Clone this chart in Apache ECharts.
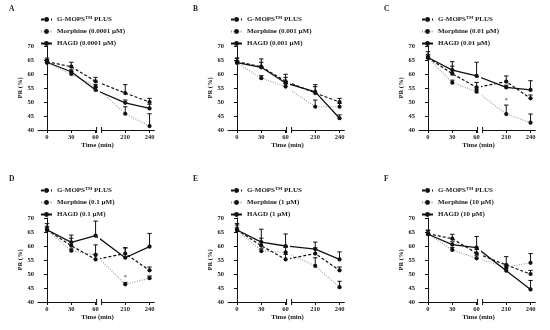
<!DOCTYPE html>
<html><head><meta charset="utf-8">
<script src="https://cdn.jsdelivr.net/npm/echarts@6/dist/echarts.min.js"></script>
<style>html,body{margin:0;padding:0;background:#fff}#c{width:550px;height:330px}</style>
</head><body><div id="c"></div>
<script>
// ---------- data ----------
const timeLabels = ['0', '30', '60', '210', '240'];
const panelLetters = ['A', 'B', 'C', 'D', 'E', 'F'];
const doseLabels = ['0.0001 µM', '0.001 µM', '0.01 µM', '0.1 µM', '1 µM', '10 µM'];
const yTicks = [40, 45, 50, 55, 60, 65, 70];

// control (G-MOPS PLUS) – panels A, B, F share one control, C, D, E another
const gmopsABF    = [64.4, 62.6, 57.4, 53.2, 50.0];
const gmopsABFErr = [65.7, 64.2, 58.8, 56.2, 51.3];
const gmopsCDE    = [65.8, 60.1, 55.2, 57.3, 51.3];
const gmopsCDEErr = [68.0, 62.8, 57.0, 59.3, 52.5];

const morphineA    = [64.0, 60.0, 55.5, 45.8, 41.4];
const morphineAErr = [64.8, 60.8, 56.3, 48.3, 45.8];
const hagdA        = [64.2, 60.8, 54.3, 49.7, 47.7];
const hagdAErr     = [65.2, 61.5, 55.2, 50.7, 49.2];

const morphineB    = [64.0, 58.5, 55.5, 48.3, 48.3];
const morphineBErr = [64.8, 59.4, 56.5, 50.7, 49.5];
const hagdB        = [64.1, 62.4, 56.8, 53.6, 44.2];
const hagdBErr     = [65.6, 65.4, 59.9, 55.5, 45.4];

const morphineC    = [65.8, 56.9, 53.7, 45.7, 42.6];
const morphineCErr = [66.5, 57.8, 54.5, 48.9, 45.7];
const hagdC        = [65.9, 61.4, 59.3, 55.2, 54.3];
const hagdCErr     = [67.0, 64.4, 64.2, 56.0, 57.6];

const morphineD    = [65.7, 58.3, 56.8, 46.3, 48.5];
const morphineDErr = [66.5, 59.0, 60.4, 47.0, 49.3];
const hagdD        = [65.8, 61.3, 63.7, 55.8, 59.8];
const hagdDErr     = [67.0, 63.9, 68.9, 59.4, 64.5];

const morphineE    = [65.7, 58.2, 57.7, 52.9, 45.3];
const morphineEErr = [66.5, 59.0, 59.5, 55.8, 47.4];
const hagdE        = [65.7, 61.4, 60.0, 58.9, 55.2];
const hagdEErr     = [67.5, 66.0, 64.3, 61.4, 57.9];

const morphineF    = [64.3, 58.6, 55.6, 52.5, 54.0];
const morphineFErr = [65.0, 59.5, 56.5, 53.5, 57.3];
const hagdF        = [64.2, 60.5, 59.4, 51.2, 44.5];
const hagdFErr     = [65.5, 61.5, 63.4, 52.0, 47.7];

// significance marks (value where the * is shown, per time point)
const asteriskC = [null, null, null, 50.6, null];
const asteriskD = [null, null, null, 49.0, null];

// ---------- layout ----------
const FONT = 'Liberation Serif';
const GM = 'G-MOPS™ PLUS';
const unit = 24.3;                 // px per slot
const slotOf = i => (i < 3 ? i : i + 0.22);   // broken axis: 60 -> 210 gap
const segL = { min: -0.37, max: 2.04 };
const segR = { min: 2.247, max: 4.42 };
const colX = [38, 228, 419];
const rowTop = [46, 218];
const plotH = 84;
const legendTop = [15.5, 186.5];
const letterX = [9, 193, 384];
const letterTop = [5, 175];

const panels = [
  { gm: gmopsABF, gmE: gmopsABFErr, mo: morphineA, moE: morphineAErr, ha: hagdA, haE: hagdAErr, ast: null },
  { gm: gmopsABF, gmE: gmopsABFErr, mo: morphineB, moE: morphineBErr, ha: hagdB, haE: hagdBErr, ast: null },
  { gm: gmopsCDE, gmE: gmopsCDEErr, mo: morphineC, moE: morphineCErr, ha: hagdC, haE: hagdCErr, ast: asteriskC },
  { gm: gmopsCDE, gmE: gmopsCDEErr, mo: morphineD, moE: morphineDErr, ha: hagdD, haE: hagdDErr, ast: asteriskD },
  { gm: gmopsCDE, gmE: gmopsCDEErr, mo: morphineE, moE: morphineEErr, ha: hagdE, haE: hagdEErr, ast: null },
  { gm: gmopsABF, gmE: gmopsABFErr, mo: morphineF, moE: morphineFErr, ha: hagdF, haE: hagdFErr, ast: null }
];

const styles = {
  gm: { color: '#111', line: { color: '#111', width: 1.2, type: [3, 2] } },
  mo: { color: '#111', line: { color: '#9a9a9a', width: 1.1, type: [1, 1.4] } },
  ha: { color: '#111', line: { color: '#111', width: 1.3, type: 'solid' } }
};

const labelFor = v => {
  for (let i = 0; i < timeLabels.length; i++) if (Math.abs(slotOf(i) - v) < 0.01) return timeLabels[i];
  return '';
};

const grids = [], xAxes = [], yAxes = [], series = [], legends = [], titles = [];
const txt = { fontFamily: FONT, fontWeight: 'bold', color: '#1a1a1a' };

panels.forEach((p, pi) => {
  const c = pi % 3, r = Math.floor(pi / 3);
  const x0 = colX[c];
  const names = { gm: GM, mo: 'Morphine (' + doseLabels[pi] + ')', ha: 'HAGD (' + doseLabels[pi] + ')' };
  [segL, segR].forEach((seg, si) => {
    const gi = grids.length;
    grids.push({ left: x0 + (seg.min - segL.min) * unit, top: rowTop[r], width: (seg.max - seg.min) * unit, height: plotH, containLabel: false });
    const idxIn = [0, 1, 2, 3, 4].filter(i => slotOf(i) >= seg.min && slotOf(i) <= seg.max);
    const tickVals = idxIn.map(slotOf);
    xAxes.push({
      type: 'value', gridIndex: gi, min: seg.min, max: seg.max, position: 'bottom',
      axisLine: { show: true, onZero: false, lineStyle: { color: '#111', width: 1 } },
      axisTick: { show: true, customValues: tickVals, length: 3, lineStyle: { color: '#111', width: 1 } },
      axisLabel: { show: true, customValues: tickVals, formatter: labelFor, margin: 4, fontSize: 6.5, ...txt },
      splitLine: { show: false }
    });
    yAxes.push({
      type: 'value', gridIndex: gi, min: 40, max: 70, interval: 5, show: si === 0,
      name: si === 0 ? 'PR (%)' : '', nameLocation: 'middle', nameGap: 13, nameRotate: 90,
      nameTextStyle: { fontSize: 6.5, ...txt },
      axisLine: { show: true, lineStyle: { color: '#111', width: 1 } },
      axisTick: { show: true, length: 3, lineStyle: { color: '#111', width: 1 } },
      axisLabel: { margin: 4, fontSize: 6.5, ...txt, formatter: v => (yTicks.includes(v) ? String(v) : '') },
      splitLine: { show: false }
    });
    ['mo', 'gm', 'ha'].forEach(k => {
      const vals = p[k], errs = p[k + 'E'], st = styles[k];
      series.push({
        type: 'line', name: names[k], xAxisIndex: gi, yAxisIndex: gi, clip: true,
        data: vals.map((v, i) => [slotOf(i), v]),
        symbol: 'circle', symbolSize: 4.2, showAllSymbol: true,
        itemStyle: { color: st.color }, lineStyle: st.line,
        emphasis: { disabled: true }, animation: false, z: k === 'ha' ? 4 : 3
      });
      series.push({
        type: 'custom', xAxisIndex: gi, yAxisIndex: gi, animation: false, silent: true, z: 2,
        dimensions: ['x', 'm', 'u'], encode: { x: 0, y: [1, 2] },
        data: idxIn.map(i => [slotOf(i), vals[i], errs[i]]),
        renderItem: (params, api) => {
          const x = api.value(0), m = api.value(1), u = api.value(2);
          const a = api.coord([x, m]), b = api.coord([x, u]);
          return { type: 'group', children: [
            { type: 'line', shape: { x1: a[0], y1: a[1], x2: b[0], y2: b[1] }, style: { stroke: '#111', lineWidth: 1 } },
            { type: 'line', shape: { x1: b[0] - 2.2, y1: b[1], x2: b[0] + 2.2, y2: b[1] }, style: { stroke: '#111', lineWidth: 1 } }
          ] };
        }
      });
    });
    // axis break mark at the segment edge
    series.push({
      type: 'custom', xAxisIndex: gi, yAxisIndex: gi, animation: false, silent: true, clip: false,
      data: [[si === 0 ? seg.max : seg.min, 40]],
      renderItem: (params, api) => {
        const q = api.coord([api.value(0), api.value(1)]);
        return { type: 'line', shape: { x1: q[0], y1: q[1] - 3, x2: q[0], y2: q[1] + 3 }, style: { stroke: '#111', lineWidth: 1 } };
      }
    });
    if (p.ast) {
      const pts = [];
      p.ast.forEach((v, i) => { if (v != null && idxIn.includes(i)) pts.push([slotOf(i), v]); });
      if (pts.length) series.push({
        type: 'scatter', xAxisIndex: gi, yAxisIndex: gi, symbolSize: 0, data: pts, silent: true, animation: false,
        label: { show: true, formatter: '*', position: 'inside', fontSize: 7, ...txt, color: '#555' }
      });
    }
  });
  legends.push({
    orient: 'vertical', left: x0 + 2, top: legendTop[r], itemWidth: 11, itemHeight: 6, itemGap: 5,
    padding: 0, selectedMode: false, data: [names.gm, names.mo, names.ha],
    textStyle: { ...txt, fontSize: 7, rich: {
      t: { ...txt, fontSize: 7, lineHeight: 8 },
      s: { ...txt, fontSize: 4.5, lineHeight: 4.5, verticalAlign: 'top' }
    } },
    formatter: n => (n === GM ? '{t|G-MOPS}{s|TM}{t| PLUS}' : '{t|' + n + '}')
  });
  titles.push({ text: panelLetters[pi], left: letterX[c], top: letterTop[r], padding: 0, textStyle: { ...txt, fontSize: 7.5 } });
  titles.push({ text: 'Time (min)', left: x0 + 59.5, top: rowTop[r] + plotH + 12, padding: 0, textAlign: 'center', textStyle: { ...txt, fontSize: 6.8 } });
});

const chart = echarts.init(document.getElementById('c'), null, { renderer: 'canvas' });
chart.setOption({ backgroundColor: '#fff', animation: false, title: titles, legend: legends, grid: grids, xAxis: xAxes, yAxis: yAxes, series });
</script></body></html>
